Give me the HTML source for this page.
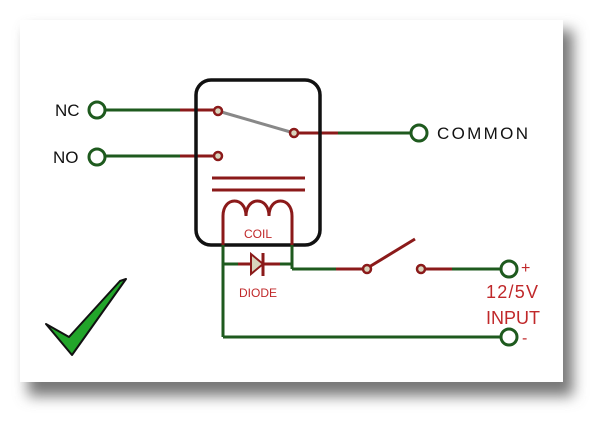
<!DOCTYPE html>
<html><head><style>
body{margin:0;width:600px;height:419px;background:#fff;overflow:hidden}
</style></head><body>
<svg width="600" height="419" xmlns="http://www.w3.org/2000/svg" font-family="Liberation Sans, sans-serif">
<defs>
<filter id="sh" x="-10%" y="-10%" width="130%" height="140%"><feGaussianBlur stdDeviation="7"/></filter>
</defs>
<rect x="28" y="30" width="545" height="366" fill="#777" filter="url(#sh)"/>
<rect x="20" y="20" width="543" height="362" fill="#fff"/>
<g fill="none" stroke-width="3">
<line x1="105" y1="110" x2="180" y2="110" stroke="#1e5a1e"/>
<line x1="180" y1="110" x2="214" y2="110" stroke="#8b1a1a"/>
<line x1="105" y1="156" x2="180" y2="156" stroke="#1e5a1e"/>
<line x1="180" y1="156" x2="214" y2="156" stroke="#8b1a1a"/>
<line x1="298" y1="133" x2="338" y2="133" stroke="#8b1a1a"/>
<line x1="338" y1="133" x2="411" y2="133" stroke="#1e5a1e"/>
<line x1="218" y1="111" x2="294" y2="133" stroke="#888"/>
<rect x="196" y="80" width="124" height="165" rx="15" stroke="#111" stroke-width="3.5"/>
<line x1="212" y1="178" x2="305" y2="178" stroke="#8b1a1a"/>
<line x1="212" y1="190" x2="305" y2="190" stroke="#8b1a1a"/>
<path d="M223 245 V216 C223 196 246 196 246 216 C246 196 269 196 269 216 C269 196 292 196 292 216 V245" stroke="#8b1a1a"/>
<line x1="223" y1="245" x2="223" y2="337" stroke="#1e5a1e"/>
<line x1="292" y1="245" x2="292" y2="269" stroke="#1e5a1e"/>
<line x1="223" y1="264" x2="238" y2="264" stroke="#1e5a1e"/>
<line x1="238" y1="264" x2="250" y2="264" stroke="#8b1a1a"/>
<line x1="264" y1="264" x2="280" y2="264" stroke="#8b1a1a"/>
<line x1="280" y1="264" x2="292" y2="264" stroke="#1e5a1e"/>
<line x1="263" y1="253" x2="263" y2="276" stroke="#8b1a1a"/>
<line x1="292" y1="269" x2="336" y2="269" stroke="#1e5a1e"/>
<line x1="336" y1="269" x2="364" y2="269" stroke="#8b1a1a"/>
<line x1="369" y1="267" x2="415" y2="239" stroke="#8b1a1a"/>
<line x1="425" y1="269" x2="452" y2="269" stroke="#8b1a1a"/>
<line x1="452" y1="269" x2="501" y2="269" stroke="#1e5a1e"/>
<line x1="223" y1="337" x2="501" y2="337" stroke="#1e5a1e"/>
<g stroke="#1e5a1e"><circle cx="97" cy="110" r="8"/><circle cx="97" cy="157" r="8"/><circle cx="419" cy="133" r="8"/><circle cx="509" cy="269" r="8"/><circle cx="509" cy="337" r="8"/></g>
</g>
<polygon points="251,254 251,274 263,264" fill="#d8d4bc" stroke="#8b1a1a" stroke-width="2"/>
<g fill="#d8d4bc" stroke="#8b1a1a" stroke-width="2.5">
<circle cx="218" cy="111" r="4"/><circle cx="218" cy="156" r="4"/><circle cx="294" cy="133" r="4"/><circle cx="367" cy="269" r="4"/><circle cx="421" cy="269" r="4"/>
</g>
<g font-size="17" fill="#111">
<text x="55" y="116">NC</text><text x="53" y="163">NO</text><text x="437" y="139" textLength="91">COMMON</text>
</g>
<g fill="#c0282a">
<text x="258" y="238" font-size="12" text-anchor="middle">COIL</text>
<text x="258" y="297" font-size="12" text-anchor="middle">DIODE</text>
<text x="521" y="273" font-size="16">+</text>
<text x="486" y="298" font-size="18" textLength="52">12/5V</text>
<text x="486" y="324" font-size="18" textLength="54">INPUT</text>
<text x="522" y="343" font-size="16">-</text>
</g>
<polygon points="46,324 72,355 126,279 120,281 69,337" fill="#22a52a" stroke="#111" stroke-width="2" stroke-linejoin="round"/>
</svg>
</body></html>
